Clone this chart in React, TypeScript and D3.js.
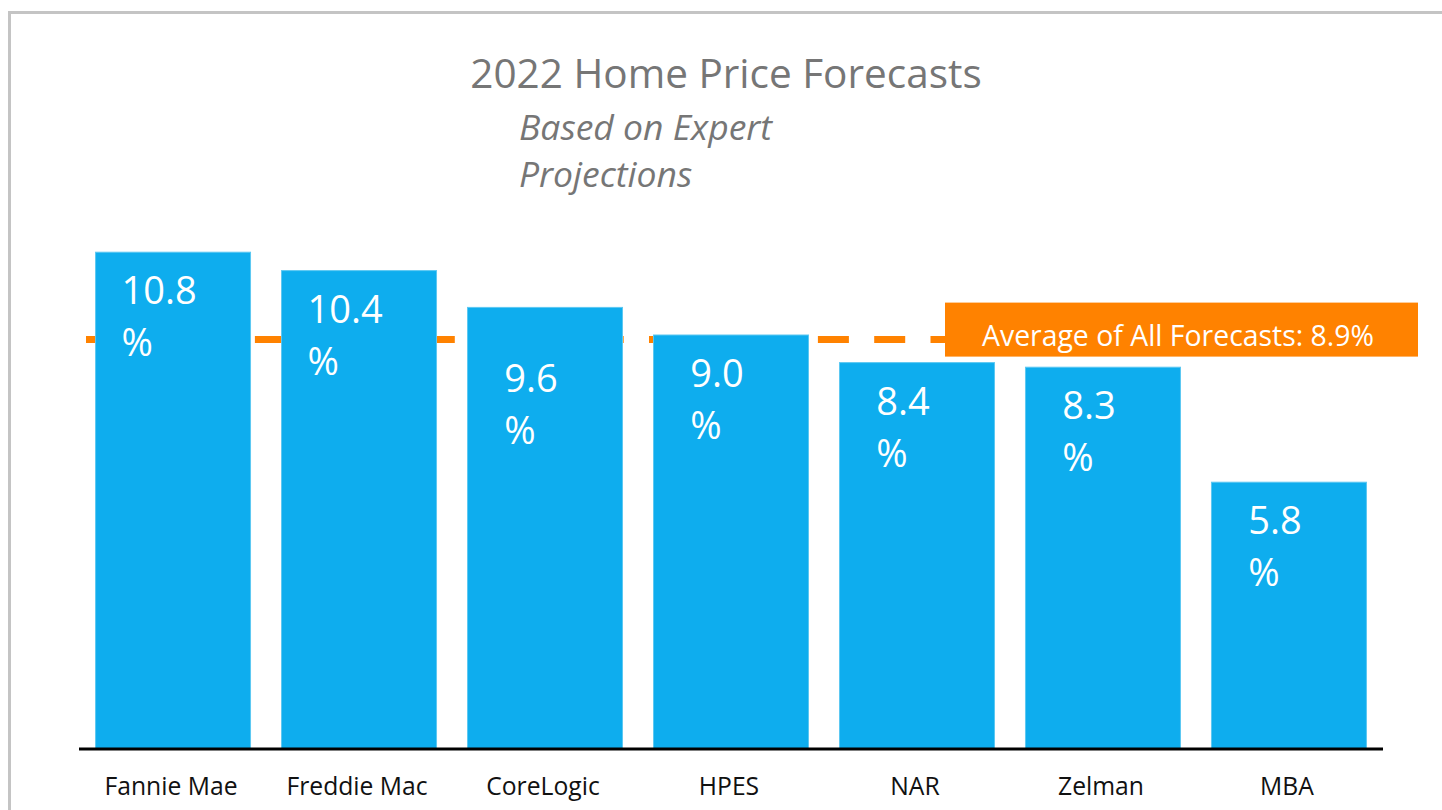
import React, { useEffect, useRef } from "react";
import * as d3 from "d3";

const categories = ["Fannie Mae", "Freddie Mac", "CoreLogic", "HPES", "NAR", "Zelman", "MBA"];
const forecasts = [10.8, 10.4, 9.6, 9.0, 8.4, 8.3, 5.8];
const averageForecast = 8.9;
const titleText = "2022 Home Price Forecasts";
const subtitleLines = ["Based on Expert", "Projections"];
const averageLabel = "Average of All Forecasts: 8.9%";

const W = 1442;
const H = 810;
const FONT = "'Open Sans', 'Noto Sans', sans-serif";
const BAR = "#0EADEE";
const ORANGE = "#FF8200";

export default function App() {
  const ref = useRef<SVGSVGElement | null>(null);

  useEffect(() => {
    const svg = d3.select(ref.current);
    svg.selectAll("*").remove();

    // frame
    svg.append("rect").attr("x", 9.5).attr("y", 12.5).attr("width", W + 20).attr("height", H + 20)
      .attr("fill", "white").attr("stroke", "#c4c4c4").attr("stroke-width", 3);

    const x = d3.scaleBand<string>().domain(categories).range([79, 1383]).paddingInner(0.1667).paddingOuter(0.089);
    const y = d3.scaleLinear().domain([0, 12]).range([749, 197]);

    // title
    svg.append("text").attr("x", 726).attr("y", 88).attr("text-anchor", "middle")
      .attr("font-family", FONT).attr("font-size", 40.5).attr("fill", "#767676").text(titleText);
    subtitleLines.forEach((t, i) => {
      svg.append("text").attr("x", 519).attr("y", 140 + i * 47)
        .attr("font-family", FONT).attr("font-size", 35.5).attr("font-style", "italic")
        .attr("fill", "#767676").text(t);
    });

    // average dashed line
    const avgY = y(averageForecast);
    svg.append("line").attr("x1", 86).attr("x2", 945).attr("y1", avgY).attr("y2", avgY)
      .attr("stroke", ORANGE).attr("stroke-width", 7).attr("stroke-dasharray", "31 25.3");

    // bars
    svg.append("g").selectAll("rect").data(forecasts).join("rect")
      .attr("x", (_, i) => x(categories[i])!)
      .attr("y", (d) => y(d))
      .attr("width", x.bandwidth())
      .attr("height", (d) => y(0) - y(d))
      .attr("fill", BAR)
      .attr("stroke", "#5cc8f2").attr("stroke-width", 1);

    // value labels
    const lineTop = avgY - 4;
    const lineBottom = avgY + 4;
    forecasts.forEach((v, i) => {
      const cx = x(categories[i])! + x.bandwidth() / 2 - 14;
      let base = y(v) + 52;
      const capTop = base - 26;
      if (capTop < lineBottom && base > lineTop) base = lineBottom + 22 + 26;
      const t1 = svg.append("text").attr("x", cx).attr("y", base).attr("text-anchor", "middle")
        .attr("font-family", FONT).attr("font-size", 38).attr("fill", "white").text(v.toFixed(1));
      const bb = (t1.node() as SVGTextElement).getBBox();
      svg.append("text").attr("x", bb.x).attr("y", base + 52)
        .attr("font-family", FONT).attr("font-size", 38).attr("fill", "white").text("%");
    });

    // axis line
    svg.append("line").attr("x1", 79).attr("x2", 1383).attr("y1", y(0)).attr("y2", y(0))
      .attr("stroke", "black").attr("stroke-width", 3);

    // category labels
    categories.forEach((c) => {
      svg.append("text").attr("x", x(c)! + x.bandwidth() / 2 - 2).attr("y", 795)
        .attr("text-anchor", "middle").attr("font-family", FONT).attr("font-size", 24.7)
        .attr("fill", "#111").text(c);
    });

    // average label box
    svg.append("rect").attr("x", 945).attr("y", avgY - 37).attr("width", 473).attr("height", 54)
      .attr("fill", ORANGE);
    svg.append("text").attr("x", 982).attr("y", avgY + 6)
      .attr("font-family", FONT).attr("font-size", 28.4).attr("fill", "white").text(averageLabel);
  }, []);

  return (
    <svg ref={ref} width={W} height={H}
      style={{ position: "fixed", left: 0, top: 0, background: "white" }} />
  );
}
